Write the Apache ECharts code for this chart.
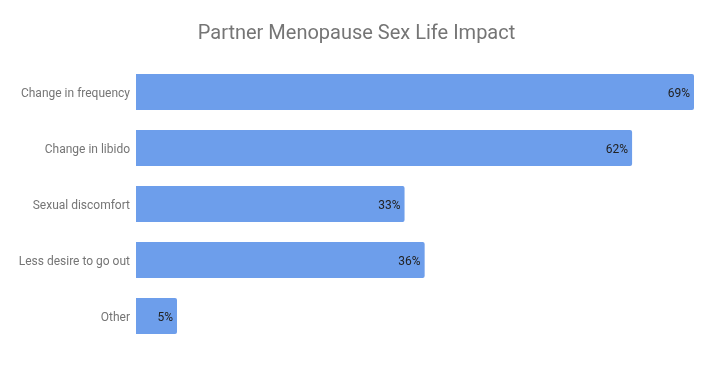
<!DOCTYPE html>
<html><head><meta charset="utf-8">
<script src="https://cdn.jsdelivr.net/npm/echarts@6/dist/echarts.min.js"></script>
<style>html,body{margin:0;padding:0;background:#fff}#c{width:713px;height:371px}</style>
</head><body><div id="c"></div>
<script>
const categories = ["Change in frequency", "Change in libido", "Sexual discomfort", "Less desire to go out", "Other"];
const values = [69.4, 61.7, 33.4, 35.9, 5.1];
const titleText = "Partner Menopause Sex Life Impact";

const chart = echarts.init(document.getElementById('c'), null, {renderer: 'canvas'});
chart.setOption({
  animation: false,
  backgroundColor: '#ffffff',
  title: {
    text: titleText, left: 'center', top: 19,
    textStyle: {fontFamily: 'Roboto', fontSize: 20, fontWeight: 'normal', color: '#757575'}
  },
  grid: {left: 136, right: 19, top: 64, bottom: 27, containLabel: false},
  xAxis: {type: 'value', min: 0, max: values[0], show: false},
  yAxis: {
    type: 'category', data: categories, inverse: true,
    axisLine: {show: false}, axisTick: {show: false}, splitLine: {show: false},
    axisLabel: {fontFamily: 'Roboto', fontSize: 12, color: '#757575', margin: 6, verticalAlign: 'top', lineHeight: 4}
  },
  series: [{
    type: 'bar', data: values, barCategoryGap: '35.7%',
    itemStyle: {color: '#6d9eeb', borderRadius: [0, 2, 2, 0]},
    label: {
      show: true, position: 'insideRight', distance: 4, offset: [0, 2],
      formatter: p => Math.round(p.value) + '%',
      fontFamily: 'Roboto', fontSize: 12, color: '#222222'
    }
  }]
});
</script></body></html>
